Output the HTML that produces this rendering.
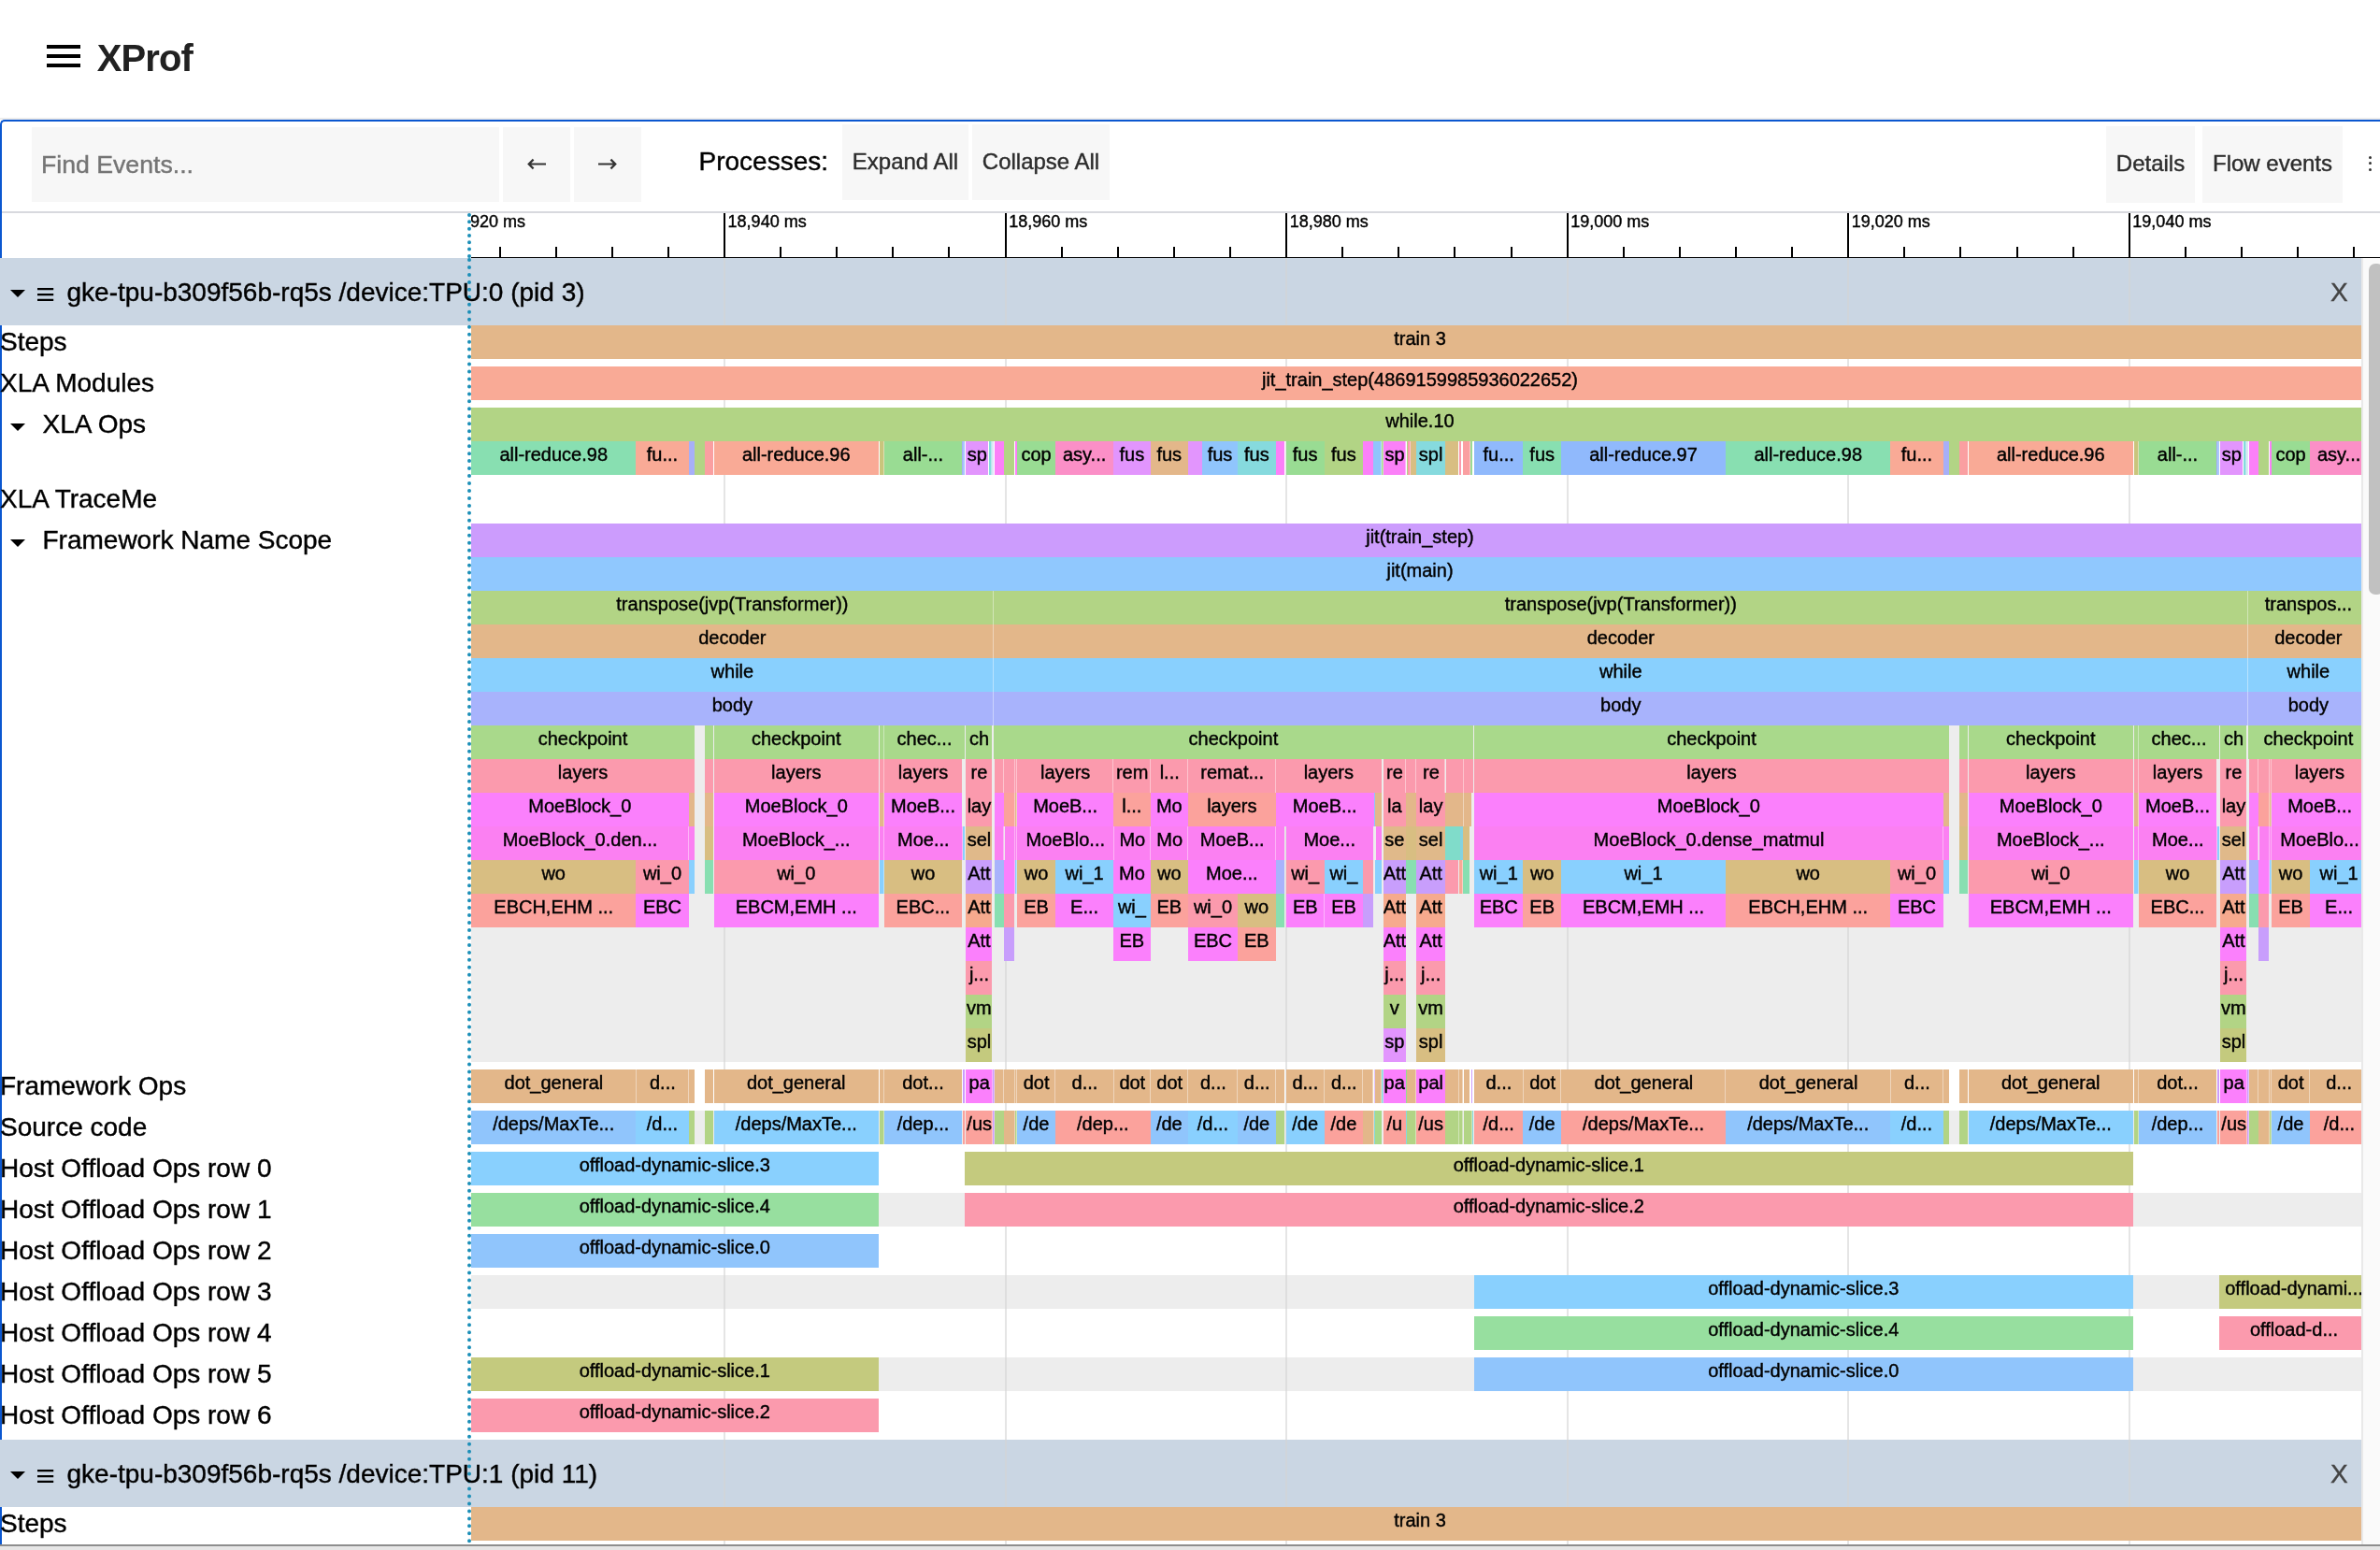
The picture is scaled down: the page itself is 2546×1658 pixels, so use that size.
<!DOCTYPE html>
<html><head><meta charset="utf-8"><title>XProf</title>
<style>
html,body{margin:0;padding:0}
body{width:2546px;height:1658px;position:relative;overflow:hidden;background:#fff;font-family:"Liberation Sans",sans-serif;color:#000;-webkit-text-stroke:0.4px currentColor}
div{position:absolute;box-sizing:border-box}
.s{height:36px;overflow:hidden;text-align:center;font-size:20px;line-height:28px;white-space:nowrap}
.e{box-shadow:inset -1px 0 0 rgba(255,255,255,.42)}
.l{left:0;height:36px;line-height:36px;font-size:28px;white-space:nowrap}
.btn{background:#f7f7f7;color:#2c2c2c;font-size:24px;text-align:center;white-space:nowrap}
.rl{top:226px;font-size:18px;line-height:24px;white-space:nowrap}
.tri{width:0;height:0;border-left:8px solid transparent;border-right:8px solid transparent;border-top:8.5px solid #000}
.g{width:2px;background:rgba(212,212,212,0.6)}
svg{position:absolute}
</style></head><body>
<div id="w" style="left:0;top:0;width:2546px;height:1658px;will-change:transform">

<div style="left:50px;top:48px;width:36px;height:4px;background:#000"></div>
<div style="left:50px;top:58px;width:36px;height:4px;background:#000"></div>
<div style="left:50px;top:68px;width:36px;height:4px;background:#000"></div>
<div style="left:103.7px;top:34px;font-size:40px;line-height:56px;font-weight:bold;color:#212121;letter-spacing:-0.9px;white-space:nowrap;-webkit-text-stroke:0">XProf</div>
<div style="left:0;top:126px;width:2546px;height:2px;background:#ececec"></div>
<div style="left:0;top:128px;width:2560px;height:1540px;border-left:2px solid #0b57d0;border-top:2px solid #0b57d0;border-top-left-radius:5px"></div>
<div style="left:34px;top:136px;width:500px;height:80px;background:#f7f7f7"></div>
<div style="left:44px;top:136px;height:80px;line-height:80px;font-size:26.67px;color:#757575;white-space:nowrap">Find Events...</div>
<div class="btn" style="left:538px;top:136px;width:72px;height:80px"></div>
<div class="btn" style="left:614px;top:136px;width:72px;height:80px"></div>
<svg style="left:538px;top:136px" width="72" height="80" viewBox="0 0 72 80"><path d="M27.3 39.5 H46 M32.6 34.6 L27.7 39.5 L32.6 44.4" stroke="#333" stroke-width="2.2" fill="none"/></svg>
<svg style="left:614px;top:136px" width="72" height="80" viewBox="0 0 72 80"><path d="M26 39.5 H44.7 M39.4 34.6 L44.3 39.5 L39.4 44.4" stroke="#333" stroke-width="2.2" fill="none"/></svg>
<div style="left:747.5px;top:147px;height:52px;line-height:52px;font-size:28px;white-space:nowrap">Processes:</div>
<div class="btn" style="left:901px;top:133px;width:135px;height:81px;line-height:79px">Expand All</div>
<div class="btn" style="left:1040px;top:133px;width:147px;height:81px;line-height:79px">Collapse All</div>
<div class="btn" style="left:2253px;top:135px;width:95px;height:82px;line-height:80px">Details</div>
<div class="btn" style="left:2356px;top:135px;width:150px;height:82px;line-height:80px">Flow events</div>
<div style="left:2534px;top:166.7px;width:3px;height:3px;background:#333;border-radius:1.5px"></div>
<div style="left:2534px;top:173.4px;width:3px;height:3px;background:#333;border-radius:1.5px"></div>
<div style="left:2534px;top:180.1px;width:3px;height:3px;background:#333;border-radius:1.5px"></div>
<div style="left:2px;top:226px;width:2546px;height:2px;background:#d8d9de"></div>
<div style="left:504px;top:228px;width:2042px;height:48px;overflow:hidden">
<div style="left:-30.55px;top:0;width:2px;height:48px;background:#000"></div>
<div class="rl" style="left:-25.95px;top:-3px">18,920 ms</div>
<div style="left:29.56px;top:36px;width:2px;height:12px;background:#000"></div>
<div style="left:89.67px;top:36px;width:2px;height:12px;background:#000"></div>
<div style="left:149.78px;top:36px;width:2px;height:12px;background:#000"></div>
<div style="left:209.89px;top:36px;width:2px;height:12px;background:#000"></div>
<div style="left:270.00px;top:0;width:2px;height:48px;background:#000"></div>
<div class="rl" style="left:274.60px;top:-3px">18,940 ms</div>
<div style="left:330.11px;top:36px;width:2px;height:12px;background:#000"></div>
<div style="left:390.22px;top:36px;width:2px;height:12px;background:#000"></div>
<div style="left:450.33px;top:36px;width:2px;height:12px;background:#000"></div>
<div style="left:510.44px;top:36px;width:2px;height:12px;background:#000"></div>
<div style="left:570.55px;top:0;width:2px;height:48px;background:#000"></div>
<div class="rl" style="left:575.15px;top:-3px">18,960 ms</div>
<div style="left:630.66px;top:36px;width:2px;height:12px;background:#000"></div>
<div style="left:690.77px;top:36px;width:2px;height:12px;background:#000"></div>
<div style="left:750.88px;top:36px;width:2px;height:12px;background:#000"></div>
<div style="left:810.99px;top:36px;width:2px;height:12px;background:#000"></div>
<div style="left:871.10px;top:0;width:2px;height:48px;background:#000"></div>
<div class="rl" style="left:875.70px;top:-3px">18,980 ms</div>
<div style="left:931.21px;top:36px;width:2px;height:12px;background:#000"></div>
<div style="left:991.32px;top:36px;width:2px;height:12px;background:#000"></div>
<div style="left:1051.43px;top:36px;width:2px;height:12px;background:#000"></div>
<div style="left:1111.54px;top:36px;width:2px;height:12px;background:#000"></div>
<div style="left:1171.65px;top:0;width:2px;height:48px;background:#000"></div>
<div class="rl" style="left:1176.25px;top:-3px">19,000 ms</div>
<div style="left:1231.76px;top:36px;width:2px;height:12px;background:#000"></div>
<div style="left:1291.87px;top:36px;width:2px;height:12px;background:#000"></div>
<div style="left:1351.98px;top:36px;width:2px;height:12px;background:#000"></div>
<div style="left:1412.09px;top:36px;width:2px;height:12px;background:#000"></div>
<div style="left:1472.20px;top:0;width:2px;height:48px;background:#000"></div>
<div class="rl" style="left:1476.80px;top:-3px">19,020 ms</div>
<div style="left:1532.31px;top:36px;width:2px;height:12px;background:#000"></div>
<div style="left:1592.42px;top:36px;width:2px;height:12px;background:#000"></div>
<div style="left:1652.53px;top:36px;width:2px;height:12px;background:#000"></div>
<div style="left:1712.64px;top:36px;width:2px;height:12px;background:#000"></div>
<div style="left:1772.75px;top:0;width:2px;height:48px;background:#000"></div>
<div class="rl" style="left:1777.35px;top:-3px">19,040 ms</div>
<div style="left:1832.86px;top:36px;width:2px;height:12px;background:#000"></div>
<div style="left:1892.97px;top:36px;width:2px;height:12px;background:#000"></div>
<div style="left:1953.08px;top:36px;width:2px;height:12px;background:#000"></div>
<div style="left:2013.19px;top:36px;width:2px;height:12px;background:#000"></div>
<div style="left:0;top:46.8px;width:2042px;height:1.2px;background:#000"></div>
</div>
<div style="left:504.00px;top:560.00px;width:2024.00px;height:576.00px;background:#ededed;"></div>
<div style="left:504.00px;top:1188.00px;width:2024.00px;height:36.00px;background:#ededed;"></div>
<div style="left:504.00px;top:1276.00px;width:2024.00px;height:36.00px;background:#ededed;"></div>
<div style="left:504.00px;top:1364.00px;width:2024.00px;height:36.00px;background:#ededed;"></div>
<div style="left:504.00px;top:1452.00px;width:2024.00px;height:36.00px;background:#ededed;"></div>
<div style="left:0.00px;top:276.00px;width:2526.00px;height:72.00px;background:#cad6e3;"></div>
<div style="left:0.00px;top:1540.00px;width:2526.00px;height:72.00px;background:#cad6e3;"></div>
<div class="g" style="left:774.00px;top:276px;height:1376px"></div>
<div class="g" style="left:1074.55px;top:276px;height:1376px"></div>
<div class="g" style="left:1375.10px;top:276px;height:1376px"></div>
<div class="g" style="left:1675.65px;top:276px;height:1376px"></div>
<div class="g" style="left:1976.20px;top:276px;height:1376px"></div>
<div class="g" style="left:2276.75px;top:276px;height:1376px"></div>
<div style="left:0;top:0;width:2526px;height:1652px;overflow:hidden">
<div class="s" style="left:504.0px;top:348px;width:2030.0px;background:#e3b78a">train 3</div>
<div class="s" style="left:504.0px;top:392px;width:2030.0px;background:#f9aa96">jit_train_step(4869159985936022652)</div>
<div class="s" style="left:504.0px;top:436px;width:2030.0px;background:#b2d485">while.10</div>
<div class="s" style="left:504.0px;top:472px;width:176.4px;background:#88dfb1">all-reduce.98</div>
<div class="s" style="left:680.4px;top:472px;width:56.2px;background:#f9aa96">fu...</div>
<div class="s" style="left:736.6px;top:472px;width:6.4px;background:#a7aff8"></div>
<div class="s" style="left:743.0px;top:472px;width:11.0px;background:#b2d485"></div>
<div class="s" style="left:754.0px;top:472px;width:9.0px;background:#fa9fa1"></div>
<div class="s" style="left:764.0px;top:472px;width:175.5px;background:#f9aa96">all-reduce.96</div>
<div class="s e" style="left:941.0px;top:472px;width:5.0px;background:#c9c57c"></div>
<div class="s" style="left:946.0px;top:472px;width:83.0px;background:#99dc93">all-...</div>
<div class="s" style="left:1029.0px;top:472px;width:1.4px;background:#a7aff8"></div>
<div class="s" style="left:1030.4px;top:472px;width:2.0px;background:#a9c8fb"></div>
<div class="s" style="left:1033.4px;top:472px;width:23.6px;background:#e295fd">sp</div>
<div class="s e" style="left:1058.0px;top:472px;width:3.0px;background:#86dade"></div>
<div class="s" style="left:1061.0px;top:472px;width:2.0px;background:#dbe7f6"></div>
<div class="s" style="left:1064.0px;top:472px;width:10.0px;background:#fb80f8"></div>
<div class="s" style="left:1074.0px;top:472px;width:11.0px;background:#b2d485"></div>
<div class="s" style="left:1086.0px;top:472px;width:2.0px;background:#fb80f8"></div>
<div class="s" style="left:1088.0px;top:472px;width:41.0px;background:#99dc93">cop</div>
<div class="s" style="left:1129.0px;top:472px;width:62.2px;background:#fb8fc7">asy...</div>
<div class="s" style="left:1191.2px;top:472px;width:39.4px;background:#e295fd">fus</div>
<div class="s" style="left:1230.6px;top:472px;width:40.4px;background:#e3b78a">fus</div>
<div class="s" style="left:1271.0px;top:472px;width:15.0px;background:#e295fd"></div>
<div class="s" style="left:1286.0px;top:472px;width:38.0px;background:#90c5fc">fus</div>
<div class="s" style="left:1324.0px;top:472px;width:40.7px;background:#86dade">fus</div>
<div class="s" style="left:1364.7px;top:472px;width:9.3px;background:#fb80f8"></div>
<div class="s" style="left:1375.5px;top:472px;width:41.3px;background:#99dc93">fus</div>
<div class="s" style="left:1416.8px;top:472px;width:41.2px;background:#b2d485">fus</div>
<div class="s" style="left:1458.0px;top:472px;width:11.0px;background:#fb80f8"></div>
<div class="s e" style="left:1469.0px;top:472px;width:9.2px;background:#90c5fc"></div>
<div class="s e" style="left:1478.2px;top:472px;width:1.5px;background:#a9d98b"></div>
<div class="s e" style="left:1479.7px;top:472px;width:24.8px;background:#fb80f8">sp</div>
<div class="s" style="left:1504.5px;top:472px;width:1.5px;background:#b2d485"></div>
<div class="s e" style="left:1506.0px;top:472px;width:2.5px;background:#fb9aad"></div>
<div class="s" style="left:1508.5px;top:472px;width:6.8px;background:#d8be82"></div>
<div class="s" style="left:1515.3px;top:472px;width:30.7px;background:#86dade">spl</div>
<div class="s" style="left:1546.0px;top:472px;width:14.0px;background:#d8be82"></div>
<div class="s" style="left:1561.0px;top:472px;width:2.0px;background:#fb9aad"></div>
<div class="s e" style="left:1565.3px;top:472px;width:7.7px;background:#fa9fa1"></div>
<div class="s" style="left:1573.0px;top:472px;width:1.5px;background:#99dc93"></div>
<div class="s" style="left:1577.0px;top:472px;width:52.4px;background:#90b9fc">fu...</div>
<div class="s" style="left:1629.4px;top:472px;width:40.6px;background:#88dfb1">fus</div>
<div class="s" style="left:1670.0px;top:472px;width:176.0px;background:#90b9fc">all-reduce.97</div>
<div class="s" style="left:1846.0px;top:472px;width:176.4px;background:#88dfb1">all-reduce.98</div>
<div class="s" style="left:2022.4px;top:472px;width:56.2px;background:#f9aa96">fu...</div>
<div class="s" style="left:2078.6px;top:472px;width:6.4px;background:#a7aff8"></div>
<div class="s" style="left:2085.0px;top:472px;width:11.0px;background:#b2d485"></div>
<div class="s" style="left:2096.0px;top:472px;width:9.0px;background:#fa9fa1"></div>
<div class="s" style="left:2106.0px;top:472px;width:175.5px;background:#f9aa96">all-reduce.96</div>
<div class="s e" style="left:2283.0px;top:472px;width:5.0px;background:#c9c57c"></div>
<div class="s" style="left:2288.0px;top:472px;width:83.0px;background:#99dc93">all-...</div>
<div class="s" style="left:2371.0px;top:472px;width:1.4px;background:#a7aff8"></div>
<div class="s" style="left:2372.4px;top:472px;width:2.0px;background:#a9c8fb"></div>
<div class="s" style="left:2375.4px;top:472px;width:23.6px;background:#e295fd">sp</div>
<div class="s e" style="left:2400.0px;top:472px;width:3.0px;background:#86dade"></div>
<div class="s" style="left:2403.0px;top:472px;width:2.0px;background:#dbe7f6"></div>
<div class="s" style="left:2406.0px;top:472px;width:10.0px;background:#fb80f8"></div>
<div class="s" style="left:2416.0px;top:472px;width:11.0px;background:#b2d485"></div>
<div class="s" style="left:2428.0px;top:472px;width:2.0px;background:#fb80f8"></div>
<div class="s" style="left:2430.0px;top:472px;width:41.0px;background:#99dc93">cop</div>
<div class="s" style="left:2471.0px;top:472px;width:62.2px;background:#fb8fc7">asy...</div>
<div class="s" style="left:504.0px;top:560px;width:2030.0px;background:#cc9cfd">jit(train_step)</div>
<div class="s" style="left:504.0px;top:596px;width:2030.0px;background:#90c8fe">jit(main)</div>
<div class="s e" style="left:504.0px;top:632px;width:558.8px;background:#b2d485">transpose(jvp(Transformer))</div>
<div class="s e" style="left:1062.8px;top:632px;width:1342.0px;background:#b2d485">transpose(jvp(Transformer))</div>
<div class="s" style="left:2404.8px;top:632px;width:129.2px;background:#b2d485">transpos...</div>
<div class="s e" style="left:504.0px;top:668px;width:558.8px;background:#e3b78a">decoder</div>
<div class="s e" style="left:1062.8px;top:668px;width:1342.0px;background:#e3b78a">decoder</div>
<div class="s" style="left:2404.8px;top:668px;width:129.2px;background:#e3b78a">decoder</div>
<div class="s e" style="left:504.0px;top:704px;width:558.8px;background:#89d0fe">while</div>
<div class="s e" style="left:1062.8px;top:704px;width:1342.0px;background:#89d0fe">while</div>
<div class="s" style="left:2404.8px;top:704px;width:129.2px;background:#89d0fe">while</div>
<div class="s e" style="left:504.0px;top:740px;width:558.8px;background:#a8b3fc">body</div>
<div class="s e" style="left:1062.8px;top:740px;width:1342.0px;background:#a8b3fc">body</div>
<div class="s" style="left:2404.8px;top:740px;width:129.2px;background:#a8b3fc">body</div>
<div class="s" style="left:504.0px;top:776px;width:239.0px;background:#a9d98b">checkpoint</div>
<div class="s" style="left:754.0px;top:776px;width:9.0px;background:#a9d98b"></div>
<div class="s" style="left:764.0px;top:776px;width:175.5px;background:#a9d98b">checkpoint</div>
<div class="s e" style="left:941.0px;top:776px;width:5.0px;background:#a9d98b"></div>
<div class="s" style="left:946.0px;top:776px;width:86.0px;background:#a9d98b">chec...</div>
<div class="s" style="left:1033.4px;top:776px;width:28.1px;background:#a9d98b">ch</div>
<div class="s" style="left:1062.8px;top:776px;width:513.2px;background:#a9d98b">checkpoint</div>
<div class="s" style="left:1577.0px;top:776px;width:508.0px;background:#a9d98b">checkpoint</div>
<div class="s" style="left:2096.0px;top:776px;width:9.0px;background:#a9d98b"></div>
<div class="s" style="left:2106.0px;top:776px;width:175.5px;background:#a9d98b">checkpoint</div>
<div class="s e" style="left:2283.0px;top:776px;width:5.0px;background:#a9d98b"></div>
<div class="s" style="left:2288.0px;top:776px;width:86.0px;background:#a9d98b">chec...</div>
<div class="s" style="left:2375.4px;top:776px;width:28.1px;background:#a9d98b">ch</div>
<div class="s" style="left:2404.8px;top:776px;width:129.2px;background:#a9d98b">checkpoint</div>
<div class="s" style="left:504.0px;top:812px;width:239.0px;background:#fb9aad">layers</div>
<div class="s" style="left:754.0px;top:812px;width:9.0px;background:#fb9aad"></div>
<div class="s" style="left:764.0px;top:812px;width:175.5px;background:#fb9aad">layers</div>
<div class="s e" style="left:941.0px;top:812px;width:5.0px;background:#fb9aad"></div>
<div class="s" style="left:946.0px;top:812px;width:83.0px;background:#fb9aad">layers</div>
<div class="s" style="left:1033.4px;top:812px;width:28.1px;background:#fb9aad">re</div>
<div class="s e" style="left:1063.6px;top:812px;width:10.8px;background:#fb9aad"></div>
<div class="s e" style="left:1074.4px;top:812px;width:11.2px;background:#fb9aad"></div>
<div class="s e" style="left:1085.6px;top:812px;width:2.4px;background:#fb9aad"></div>
<div class="s e" style="left:1088.0px;top:812px;width:103.4px;background:#fb9aad">layers</div>
<div class="s e" style="left:1191.4px;top:812px;width:39.6px;background:#fb9aad">rem</div>
<div class="s e" style="left:1231.0px;top:812px;width:40.4px;background:#fb9aad">l...</div>
<div class="s e" style="left:1271.4px;top:812px;width:93.7px;background:#fb9aad">remat...</div>
<div class="s" style="left:1365.1px;top:812px;width:112.5px;background:#fb9aad">layers</div>
<div class="s e" style="left:1479.7px;top:812px;width:24.6px;background:#fb9aad">re</div>
<div class="s e" style="left:1504.3px;top:812px;width:11.1px;background:#fb9aad"></div>
<div class="s e" style="left:1515.4px;top:812px;width:31.1px;background:#fb9aad">re</div>
<div class="s e" style="left:1546.5px;top:812px;width:19.1px;background:#fb9aad"></div>
<div class="s" style="left:1565.6px;top:812px;width:10.4px;background:#fb9aad"></div>
<div class="s" style="left:1577.0px;top:812px;width:508.0px;background:#fb9aad">layers</div>
<div class="s" style="left:2096.0px;top:812px;width:9.0px;background:#fb9aad"></div>
<div class="s" style="left:2106.0px;top:812px;width:175.5px;background:#fb9aad">layers</div>
<div class="s e" style="left:2283.0px;top:812px;width:5.0px;background:#fb9aad"></div>
<div class="s" style="left:2288.0px;top:812px;width:83.0px;background:#fb9aad">layers</div>
<div class="s" style="left:2375.4px;top:812px;width:28.1px;background:#fb9aad">re</div>
<div class="s e" style="left:2405.6px;top:812px;width:10.8px;background:#fb9aad"></div>
<div class="s e" style="left:2416.4px;top:812px;width:11.2px;background:#fb9aad"></div>
<div class="s e" style="left:2427.6px;top:812px;width:2.4px;background:#fb9aad"></div>
<div class="s" style="left:2430.0px;top:812px;width:102.8px;background:#fb9aad">layers</div>
<div class="s" style="left:504.0px;top:848px;width:232.6px;background:#fb80fc">MoeBlock_0</div>
<div class="s" style="left:736.6px;top:848px;width:6.4px;background:#e3b78a"></div>
<div class="s" style="left:754.0px;top:848px;width:9.0px;background:#e3b78a"></div>
<div class="s" style="left:764.0px;top:848px;width:175.5px;background:#fb80fc">MoeBlock_0</div>
<div class="s e" style="left:941.0px;top:848px;width:5.0px;background:#e3b78a"></div>
<div class="s" style="left:946.0px;top:848px;width:83.0px;background:#fb80fc">MoeB...</div>
<div class="s" style="left:1033.4px;top:848px;width:28.1px;background:#fb9aad">lay</div>
<div class="s" style="left:1063.6px;top:848px;width:10.4px;background:#fb80fc"></div>
<div class="s e" style="left:1074.0px;top:848px;width:11.6px;background:#fba29c"></div>
<div class="s e" style="left:1085.6px;top:848px;width:2.4px;background:#e3b78a"></div>
<div class="s" style="left:1088.0px;top:848px;width:103.2px;background:#fb80fc">MoeB...</div>
<div class="s" style="left:1191.2px;top:848px;width:39.4px;background:#fba29c">l...</div>
<div class="s" style="left:1230.6px;top:848px;width:40.4px;background:#fb80fc">Mo</div>
<div class="s" style="left:1271.0px;top:848px;width:93.7px;background:#fba29c">layers</div>
<div class="s" style="left:1364.7px;top:848px;width:105.0px;background:#fb80fc">MoeB...</div>
<div class="s" style="left:1469.7px;top:848px;width:1.3px;background:#90c5fc"></div>
<div class="s" style="left:1471.0px;top:848px;width:6.6px;background:#e3b78a"></div>
<div class="s" style="left:1479.7px;top:848px;width:24.1px;background:#fb9aad">la</div>
<div class="s" style="left:1503.8px;top:848px;width:11.5px;background:#e3b78a"></div>
<div class="s" style="left:1515.3px;top:848px;width:30.7px;background:#fb9aad">lay</div>
<div class="s e" style="left:1546.0px;top:848px;width:19.6px;background:#e3b78a"></div>
<div class="s" style="left:1565.6px;top:848px;width:8.4px;background:#e3b78a"></div>
<div class="s" style="left:1577.0px;top:848px;width:501.6px;background:#fb80fc">MoeBlock_0</div>
<div class="s" style="left:2078.6px;top:848px;width:6.4px;background:#e3b78a"></div>
<div class="s" style="left:2096.0px;top:848px;width:9.0px;background:#e3b78a"></div>
<div class="s" style="left:2106.0px;top:848px;width:175.5px;background:#fb80fc">MoeBlock_0</div>
<div class="s e" style="left:2283.0px;top:848px;width:5.0px;background:#e3b78a"></div>
<div class="s" style="left:2288.0px;top:848px;width:83.0px;background:#fb80fc">MoeB...</div>
<div class="s" style="left:2375.4px;top:848px;width:28.1px;background:#fb9aad">lay</div>
<div class="s" style="left:2405.6px;top:848px;width:10.4px;background:#fb80fc"></div>
<div class="s e" style="left:2416.0px;top:848px;width:11.6px;background:#fba29c"></div>
<div class="s e" style="left:2427.6px;top:848px;width:2.4px;background:#e3b78a"></div>
<div class="s" style="left:2430.0px;top:848px;width:103.2px;background:#fb80fc">MoeB...</div>
<div class="s e" style="left:504.0px;top:884px;width:233.0px;background:#fb80f2">MoeBlock_0.den...</div>
<div class="s" style="left:737.0px;top:884px;width:6.0px;background:#fb80f2"></div>
<div class="s" style="left:754.0px;top:884px;width:9.0px;background:#d8be82"></div>
<div class="s" style="left:764.0px;top:884px;width:175.5px;background:#fb80f2">MoeBlock_...</div>
<div class="s e" style="left:941.0px;top:884px;width:5.0px;background:#fb80f2"></div>
<div class="s e" style="left:946.0px;top:884px;width:83.6px;background:#fb80f2">Moe...</div>
<div class="s" style="left:1029.6px;top:884px;width:2.4px;background:#89d0fe"></div>
<div class="s" style="left:1033.4px;top:884px;width:28.1px;background:#e0b98a">sel</div>
<div class="s e" style="left:1063.6px;top:884px;width:10.9px;background:#fb80f2"></div>
<div class="s e" style="left:1074.5px;top:884px;width:11.1px;background:#fb80f2"></div>
<div class="s e" style="left:1085.6px;top:884px;width:2.4px;background:#fb80f2"></div>
<div class="s e" style="left:1088.0px;top:884px;width:103.6px;background:#fb80f2">MoeBlo...</div>
<div class="s e" style="left:1191.6px;top:884px;width:39.4px;background:#fb80f2">Mo</div>
<div class="s e" style="left:1231.0px;top:884px;width:40.4px;background:#fb80f2">Mo</div>
<div class="s e" style="left:1271.4px;top:884px;width:93.6px;background:#fb80f2">MoeB...</div>
<div class="s" style="left:1365.0px;top:884px;width:9.0px;background:#fb80f2"></div>
<div class="s" style="left:1375.5px;top:884px;width:93.5px;background:#fb80f2">Moe...</div>
<div class="s" style="left:1471.5px;top:884px;width:6.1px;background:#fb80f2"></div>
<div class="s" style="left:1479.7px;top:884px;width:24.1px;background:#e0b98a">se</div>
<div class="s" style="left:1503.8px;top:884px;width:11.5px;background:#d8be82"></div>
<div class="s" style="left:1515.3px;top:884px;width:30.7px;background:#e0b98a">sel</div>
<div class="s" style="left:1546.0px;top:884px;width:15.5px;background:#80dcca"></div>
<div class="s" style="left:1561.5px;top:884px;width:3.8px;background:#84d2e0"></div>
<div class="s" style="left:1565.3px;top:884px;width:7.1px;background:#d8be82"></div>
<div class="s e" style="left:1577.0px;top:884px;width:502.0px;background:#fb80f2">MoeBlock_0.dense_matmul</div>
<div class="s" style="left:2079.0px;top:884px;width:6.0px;background:#fb80f2"></div>
<div class="s" style="left:2096.0px;top:884px;width:9.0px;background:#d8be82"></div>
<div class="s" style="left:2106.0px;top:884px;width:175.5px;background:#fb80f2">MoeBlock_...</div>
<div class="s e" style="left:2283.0px;top:884px;width:5.0px;background:#fb80f2"></div>
<div class="s e" style="left:2288.0px;top:884px;width:83.6px;background:#fb80f2">Moe...</div>
<div class="s" style="left:2371.6px;top:884px;width:2.4px;background:#89d0fe"></div>
<div class="s" style="left:2375.4px;top:884px;width:28.1px;background:#e0b98a">sel</div>
<div class="s e" style="left:2405.6px;top:884px;width:10.9px;background:#fb80f2"></div>
<div class="s e" style="left:2416.5px;top:884px;width:11.1px;background:#fb80f2"></div>
<div class="s e" style="left:2427.6px;top:884px;width:2.4px;background:#fb80f2"></div>
<div class="s" style="left:2430.0px;top:884px;width:103.0px;background:#fb80f2">MoeBlo...</div>
<div class="s" style="left:504.0px;top:920px;width:176.4px;background:#d8be82">wo</div>
<div class="s" style="left:680.4px;top:920px;width:56.2px;background:#fb9aad">wi_0</div>
<div class="s" style="left:736.6px;top:920px;width:6.4px;background:#89d0fe"></div>
<div class="s" style="left:754.0px;top:920px;width:9.0px;background:#88dfb1"></div>
<div class="s" style="left:764.0px;top:920px;width:175.5px;background:#fb9aad">wi_0</div>
<div class="s e" style="left:941.0px;top:920px;width:5.0px;background:#89d0fe"></div>
<div class="s" style="left:946.0px;top:920px;width:83.0px;background:#d8be82">wo</div>
<div class="s" style="left:1033.4px;top:920px;width:28.1px;background:#c89efc">Att</div>
<div class="s" style="left:1063.6px;top:920px;width:10.4px;background:#a8b3fc"></div>
<div class="s e" style="left:1074.0px;top:920px;width:11.6px;background:#fb80fc"></div>
<div class="s e" style="left:1085.6px;top:920px;width:2.4px;background:#89d0fe"></div>
<div class="s" style="left:1088.0px;top:920px;width:41.0px;background:#d8be82">wo</div>
<div class="s" style="left:1129.0px;top:920px;width:62.2px;background:#89d0fe">wi_1</div>
<div class="s" style="left:1191.2px;top:920px;width:39.4px;background:#fb80fc">Mo</div>
<div class="s" style="left:1230.6px;top:920px;width:40.4px;background:#d8be82">wo</div>
<div class="s" style="left:1271.0px;top:920px;width:93.7px;background:#fb80fc">Moe...</div>
<div class="s" style="left:1364.7px;top:920px;width:9.3px;background:#a8b3fc"></div>
<div class="s" style="left:1375.5px;top:920px;width:41.3px;background:#fb9aad">wi_</div>
<div class="s" style="left:1416.8px;top:920px;width:41.2px;background:#89d0fe">wi_</div>
<div class="s" style="left:1458.0px;top:920px;width:11.0px;background:#fb9aad"></div>
<div class="s" style="left:1471.0px;top:920px;width:6.6px;background:#89d0fe"></div>
<div class="s" style="left:1479.7px;top:920px;width:24.1px;background:#c89efc">Att</div>
<div class="s" style="left:1503.8px;top:920px;width:11.5px;background:#88dfb1"></div>
<div class="s" style="left:1515.3px;top:920px;width:30.7px;background:#c89efc">Att</div>
<div class="s" style="left:1546.0px;top:920px;width:14.0px;background:#fb9aad"></div>
<div class="s e" style="left:1561.0px;top:920px;width:4.3px;background:#f9aa96"></div>
<div class="s" style="left:1565.3px;top:920px;width:7.1px;background:#88dfb1"></div>
<div class="s" style="left:1577.0px;top:920px;width:52.4px;background:#89d0fe">wi_1</div>
<div class="s" style="left:1629.4px;top:920px;width:40.6px;background:#d8be82">wo</div>
<div class="s" style="left:1670.0px;top:920px;width:176.0px;background:#89d0fe">wi_1</div>
<div class="s" style="left:1846.0px;top:920px;width:176.4px;background:#d8be82">wo</div>
<div class="s" style="left:2022.4px;top:920px;width:56.2px;background:#fb9aad">wi_0</div>
<div class="s" style="left:2078.6px;top:920px;width:6.4px;background:#89d0fe"></div>
<div class="s" style="left:2096.0px;top:920px;width:9.0px;background:#88dfb1"></div>
<div class="s" style="left:2106.0px;top:920px;width:175.5px;background:#fb9aad">wi_0</div>
<div class="s e" style="left:2283.0px;top:920px;width:5.0px;background:#89d0fe"></div>
<div class="s" style="left:2288.0px;top:920px;width:83.0px;background:#d8be82">wo</div>
<div class="s" style="left:2375.4px;top:920px;width:28.1px;background:#c89efc">Att</div>
<div class="s" style="left:2405.6px;top:920px;width:10.4px;background:#a8b3fc"></div>
<div class="s e" style="left:2416.0px;top:920px;width:11.6px;background:#fb80fc"></div>
<div class="s e" style="left:2427.6px;top:920px;width:2.4px;background:#89d0fe"></div>
<div class="s" style="left:2430.0px;top:920px;width:41.0px;background:#d8be82">wo</div>
<div class="s" style="left:2471.0px;top:920px;width:62.2px;background:#89d0fe">wi_1</div>
<div class="s" style="left:504.0px;top:956px;width:176.4px;background:#fba29c">EBCH,EHM ...</div>
<div class="s" style="left:680.4px;top:956px;width:56.2px;background:#fb80fc">EBC</div>
<div class="s" style="left:764.0px;top:956px;width:175.5px;background:#fb80fc">EBCM,EMH ...</div>
<div class="s" style="left:946.0px;top:956px;width:83.0px;background:#fba29c">EBC...</div>
<div class="s" style="left:1033.4px;top:956px;width:28.1px;background:#f6aa8e">Att</div>
<div class="s" style="left:1063.6px;top:956px;width:10.4px;background:#88dfb1"></div>
<div class="s" style="left:1074.0px;top:956px;width:11.0px;background:#fb9aad"></div>
<div class="s" style="left:1088.0px;top:956px;width:41.0px;background:#fba29c">EB</div>
<div class="s" style="left:1129.0px;top:956px;width:62.2px;background:#fb80fc">E...</div>
<div class="s" style="left:1191.2px;top:956px;width:39.4px;background:#89d0fe">wi_</div>
<div class="s" style="left:1230.6px;top:956px;width:40.4px;background:#fba29c">EB</div>
<div class="s" style="left:1271.0px;top:956px;width:53.0px;background:#fb9aad">wi_0</div>
<div class="s" style="left:1324.0px;top:956px;width:40.7px;background:#d8be82">wo</div>
<div class="s" style="left:1364.7px;top:956px;width:9.3px;background:#88dfb1"></div>
<div class="s e" style="left:1375.5px;top:956px;width:41.7px;background:#fb80fc">EB</div>
<div class="s" style="left:1417.2px;top:956px;width:40.8px;background:#fb80fc">EB</div>
<div class="s" style="left:1458.0px;top:956px;width:11.0px;background:#c89efc"></div>
<div class="s" style="left:1479.7px;top:956px;width:24.1px;background:#f6aa8e">Att</div>
<div class="s" style="left:1515.3px;top:956px;width:30.7px;background:#f6aa8e">Att</div>
<div class="s" style="left:1577.0px;top:956px;width:52.4px;background:#fb80fc">EBC</div>
<div class="s" style="left:1629.4px;top:956px;width:40.6px;background:#fba29c">EB</div>
<div class="s" style="left:1670.0px;top:956px;width:176.0px;background:#fb80fc">EBCM,EMH ...</div>
<div class="s" style="left:1846.0px;top:956px;width:176.4px;background:#fba29c">EBCH,EHM ...</div>
<div class="s" style="left:2022.4px;top:956px;width:56.2px;background:#fb80fc">EBC</div>
<div class="s" style="left:2106.0px;top:956px;width:175.5px;background:#fb80fc">EBCM,EMH ...</div>
<div class="s" style="left:2288.0px;top:956px;width:83.0px;background:#fba29c">EBC...</div>
<div class="s" style="left:2375.4px;top:956px;width:28.1px;background:#f6aa8e">Att</div>
<div class="s" style="left:2405.6px;top:956px;width:10.4px;background:#88dfb1"></div>
<div class="s" style="left:2416.0px;top:956px;width:11.0px;background:#fb9aad"></div>
<div class="s" style="left:2430.0px;top:956px;width:41.0px;background:#fba29c">EB</div>
<div class="s" style="left:2471.0px;top:956px;width:62.2px;background:#fb80fc">E...</div>
<div class="s" style="left:1033.4px;top:992px;width:28.1px;background:#fb80fc">Att</div>
<div class="s" style="left:1074.0px;top:992px;width:11.0px;background:#c89efc"></div>
<div class="s" style="left:1191.2px;top:992px;width:39.4px;background:#fb80fc">EB</div>
<div class="s" style="left:1271.0px;top:992px;width:53.0px;background:#fb80fc">EBC</div>
<div class="s" style="left:1324.0px;top:992px;width:40.7px;background:#fba29c">EB</div>
<div class="s" style="left:1479.7px;top:992px;width:24.1px;background:#fb80fc">Att</div>
<div class="s" style="left:1515.3px;top:992px;width:30.7px;background:#fb80fc">Att</div>
<div class="s" style="left:2375.4px;top:992px;width:28.1px;background:#fb80fc">Att</div>
<div class="s" style="left:2416.0px;top:992px;width:11.0px;background:#c89efc"></div>
<div class="s" style="left:1033.4px;top:1028px;width:28.1px;background:#fb9aad">j...</div>
<div class="s" style="left:1479.7px;top:1028px;width:24.1px;background:#fb9aad">j...</div>
<div class="s" style="left:1515.3px;top:1028px;width:30.7px;background:#fb9aad">j...</div>
<div class="s" style="left:2375.4px;top:1028px;width:28.1px;background:#fb9aad">j...</div>
<div class="s" style="left:1033.4px;top:1064px;width:28.1px;background:#b2d485">vm</div>
<div class="s" style="left:1479.7px;top:1064px;width:24.1px;background:#b2d485">v</div>
<div class="s" style="left:1515.3px;top:1064px;width:30.7px;background:#b2d485">vm</div>
<div class="s" style="left:2375.4px;top:1064px;width:28.1px;background:#b2d485">vm</div>
<div class="s" style="left:1033.4px;top:1100px;width:28.1px;background:#c4ca7e">spl</div>
<div class="s" style="left:1479.7px;top:1100px;width:24.1px;background:#e295fd">sp</div>
<div class="s" style="left:1515.3px;top:1100px;width:30.7px;background:#d8be82">spl</div>
<div class="s" style="left:2375.4px;top:1100px;width:28.1px;background:#c4ca7e">spl</div>
<div class="s e" style="left:504.0px;top:1144px;width:176.8px;background:#e3b78a">dot_general</div>
<div class="s e" style="left:680.8px;top:1144px;width:56.2px;background:#e3b78a">d...</div>
<div class="s" style="left:737.0px;top:1144px;width:6.0px;background:#e3b78a"></div>
<div class="s" style="left:754.0px;top:1144px;width:9.0px;background:#e3b78a"></div>
<div class="s" style="left:764.0px;top:1144px;width:175.5px;background:#e3b78a">dot_general</div>
<div class="s e" style="left:941.0px;top:1144px;width:5.0px;background:#e3b78a"></div>
<div class="s" style="left:946.0px;top:1144px;width:83.0px;background:#e3b78a">dot...</div>
<div class="s" style="left:1030.0px;top:1144px;width:2.0px;background:#cc9cfd"></div>
<div class="s e" style="left:1033.4px;top:1144px;width:28.6px;background:#fb80fc">pa</div>
<div class="s e" style="left:1062.0px;top:1144px;width:1.6px;background:#cc9cfd"></div>
<div class="s e" style="left:1063.6px;top:1144px;width:10.8px;background:#e3b78a"></div>
<div class="s e" style="left:1074.4px;top:1144px;width:11.2px;background:#e3b78a"></div>
<div class="s e" style="left:1085.6px;top:1144px;width:2.4px;background:#e3b78a"></div>
<div class="s e" style="left:1088.0px;top:1144px;width:41.3px;background:#e3b78a">dot</div>
<div class="s e" style="left:1129.3px;top:1144px;width:62.3px;background:#e3b78a">d...</div>
<div class="s e" style="left:1191.6px;top:1144px;width:39.4px;background:#e3b78a">dot</div>
<div class="s e" style="left:1231.0px;top:1144px;width:40.4px;background:#e3b78a">dot</div>
<div class="s e" style="left:1271.4px;top:1144px;width:53.0px;background:#e3b78a">d...</div>
<div class="s e" style="left:1324.4px;top:1144px;width:40.7px;background:#e3b78a">d...</div>
<div class="s" style="left:1365.1px;top:1144px;width:8.9px;background:#e3b78a"></div>
<div class="s e" style="left:1375.5px;top:1144px;width:41.7px;background:#e3b78a">d...</div>
<div class="s e" style="left:1417.2px;top:1144px;width:41.2px;background:#e3b78a">d...</div>
<div class="s e" style="left:1458.4px;top:1144px;width:11.1px;background:#e3b78a"></div>
<div class="s e" style="left:1469.5px;top:1144px;width:1.5px;background:#cc9cfd"></div>
<div class="s e" style="left:1471.0px;top:1144px;width:7.0px;background:#e3b78a"></div>
<div class="s e" style="left:1478.0px;top:1144px;width:1.7px;background:#86dade"></div>
<div class="s" style="left:1479.7px;top:1144px;width:24.1px;background:#fb80fc">pa</div>
<div class="s" style="left:1503.8px;top:1144px;width:1.2px;background:#99dc93"></div>
<div class="s e" style="left:1505.0px;top:1144px;width:10.3px;background:#e3b78a"></div>
<div class="s" style="left:1515.3px;top:1144px;width:30.7px;background:#fb80fc">pal</div>
<div class="s e" style="left:1546.0px;top:1144px;width:14.6px;background:#e3b78a"></div>
<div class="s e" style="left:1560.6px;top:1144px;width:4.9px;background:#e3b78a"></div>
<div class="s" style="left:1565.5px;top:1144px;width:6.9px;background:#e3b78a"></div>
<div class="s" style="left:1573.5px;top:1144px;width:1.5px;background:#cc9cfd"></div>
<div class="s e" style="left:1577.0px;top:1144px;width:52.8px;background:#e3b78a">d...</div>
<div class="s e" style="left:1629.8px;top:1144px;width:40.6px;background:#e3b78a">dot</div>
<div class="s e" style="left:1670.4px;top:1144px;width:176.0px;background:#e3b78a">dot_general</div>
<div class="s e" style="left:1846.4px;top:1144px;width:176.4px;background:#e3b78a">dot_general</div>
<div class="s e" style="left:2022.8px;top:1144px;width:56.2px;background:#e3b78a">d...</div>
<div class="s" style="left:2079.0px;top:1144px;width:6.0px;background:#e3b78a"></div>
<div class="s" style="left:2096.0px;top:1144px;width:9.0px;background:#e3b78a"></div>
<div class="s" style="left:2106.0px;top:1144px;width:175.5px;background:#e3b78a">dot_general</div>
<div class="s e" style="left:2283.0px;top:1144px;width:5.0px;background:#e3b78a"></div>
<div class="s" style="left:2288.0px;top:1144px;width:83.0px;background:#e3b78a">dot...</div>
<div class="s" style="left:2372.0px;top:1144px;width:2.0px;background:#cc9cfd"></div>
<div class="s e" style="left:2375.4px;top:1144px;width:28.6px;background:#fb80fc">pa</div>
<div class="s e" style="left:2404.0px;top:1144px;width:1.6px;background:#cc9cfd"></div>
<div class="s e" style="left:2405.6px;top:1144px;width:10.8px;background:#e3b78a"></div>
<div class="s e" style="left:2416.4px;top:1144px;width:11.2px;background:#e3b78a"></div>
<div class="s e" style="left:2427.6px;top:1144px;width:2.4px;background:#e3b78a"></div>
<div class="s e" style="left:2430.0px;top:1144px;width:41.3px;background:#e3b78a">dot</div>
<div class="s" style="left:2471.3px;top:1144px;width:61.7px;background:#e3b78a">d...</div>
<div class="s" style="left:504.0px;top:1188px;width:176.4px;background:#90c5fc">/deps/MaxTe...</div>
<div class="s" style="left:680.4px;top:1188px;width:56.2px;background:#89d0fe">/d...</div>
<div class="s" style="left:736.6px;top:1188px;width:6.4px;background:#b2d485"></div>
<div class="s" style="left:754.0px;top:1188px;width:9.0px;background:#b2d485"></div>
<div class="s" style="left:764.0px;top:1188px;width:175.5px;background:#89d0fe">/deps/MaxTe...</div>
<div class="s e" style="left:941.0px;top:1188px;width:5.0px;background:#b2d485"></div>
<div class="s" style="left:946.0px;top:1188px;width:83.0px;background:#90c5fc">/dep...</div>
<div class="s" style="left:1030.0px;top:1188px;width:2.0px;background:#fba29c"></div>
<div class="s e" style="left:1033.4px;top:1188px;width:28.6px;background:#fba29c">/us</div>
<div class="s e" style="left:1062.0px;top:1188px;width:1.6px;background:#cc9cfd"></div>
<div class="s" style="left:1063.6px;top:1188px;width:10.4px;background:#b2d485"></div>
<div class="s e" style="left:1074.0px;top:1188px;width:11.6px;background:#e3b78a"></div>
<div class="s e" style="left:1085.6px;top:1188px;width:2.4px;background:#b2d485"></div>
<div class="s" style="left:1088.0px;top:1188px;width:41.0px;background:#90c5fc">/de</div>
<div class="s" style="left:1129.0px;top:1188px;width:101.6px;background:#fba29c">/dep...</div>
<div class="s" style="left:1230.6px;top:1188px;width:40.4px;background:#90c5fc">/de</div>
<div class="s" style="left:1271.0px;top:1188px;width:53.0px;background:#89d0fe">/d...</div>
<div class="s" style="left:1324.0px;top:1188px;width:40.7px;background:#90c5fc">/de</div>
<div class="s" style="left:1364.7px;top:1188px;width:9.3px;background:#b2d485"></div>
<div class="s" style="left:1375.5px;top:1188px;width:41.3px;background:#89d0fe">/de</div>
<div class="s" style="left:1416.8px;top:1188px;width:41.2px;background:#fba29c">/de</div>
<div class="s e" style="left:1458.0px;top:1188px;width:11.7px;background:#e3b78a"></div>
<div class="s" style="left:1469.7px;top:1188px;width:1.3px;background:#86dade"></div>
<div class="s" style="left:1471.0px;top:1188px;width:6.6px;background:#a9d98b"></div>
<div class="s" style="left:1479.7px;top:1188px;width:24.1px;background:#fba29c">/u</div>
<div class="s" style="left:1503.8px;top:1188px;width:1.2px;background:#86dade"></div>
<div class="s e" style="left:1505.0px;top:1188px;width:10.3px;background:#b2d485"></div>
<div class="s" style="left:1515.3px;top:1188px;width:30.7px;background:#fba29c">/us</div>
<div class="s e" style="left:1546.0px;top:1188px;width:14.6px;background:#b2d485"></div>
<div class="s e" style="left:1560.6px;top:1188px;width:4.9px;background:#b2d485"></div>
<div class="s e" style="left:1565.5px;top:1188px;width:9.0px;background:#b2d485"></div>
<div class="s" style="left:1574.5px;top:1188px;width:1.5px;background:#86dade"></div>
<div class="s" style="left:1577.0px;top:1188px;width:52.4px;background:#fba29c">/d...</div>
<div class="s" style="left:1629.4px;top:1188px;width:40.6px;background:#90c5fc">/de</div>
<div class="s" style="left:1670.0px;top:1188px;width:176.0px;background:#fba29c">/deps/MaxTe...</div>
<div class="s" style="left:1846.0px;top:1188px;width:176.4px;background:#90c5fc">/deps/MaxTe...</div>
<div class="s" style="left:2022.4px;top:1188px;width:56.2px;background:#89d0fe">/d...</div>
<div class="s" style="left:2078.6px;top:1188px;width:6.4px;background:#b2d485"></div>
<div class="s" style="left:2096.0px;top:1188px;width:9.0px;background:#b2d485"></div>
<div class="s" style="left:2106.0px;top:1188px;width:175.5px;background:#89d0fe">/deps/MaxTe...</div>
<div class="s e" style="left:2283.0px;top:1188px;width:5.0px;background:#b2d485"></div>
<div class="s" style="left:2288.0px;top:1188px;width:83.0px;background:#90c5fc">/dep...</div>
<div class="s" style="left:2372.0px;top:1188px;width:2.0px;background:#fba29c"></div>
<div class="s e" style="left:2375.4px;top:1188px;width:28.6px;background:#fba29c">/us</div>
<div class="s e" style="left:2404.0px;top:1188px;width:1.6px;background:#cc9cfd"></div>
<div class="s" style="left:2405.6px;top:1188px;width:10.4px;background:#b2d485"></div>
<div class="s e" style="left:2416.0px;top:1188px;width:11.6px;background:#e3b78a"></div>
<div class="s e" style="left:2427.6px;top:1188px;width:2.4px;background:#b2d485"></div>
<div class="s" style="left:2430.0px;top:1188px;width:41.0px;background:#90c5fc">/de</div>
<div class="s" style="left:2471.0px;top:1188px;width:63.0px;background:#fba29c">/d...</div>
<div class="s" style="left:504.0px;top:1232px;width:435.5px;background:#89d0fe">offload-dynamic-slice.3</div>
<div class="s" style="left:1032.0px;top:1232px;width:1249.6px;background:#c4ca7e">offload-dynamic-slice.1</div>
<div class="s" style="left:504.0px;top:1276px;width:435.5px;background:#97df9f">offload-dynamic-slice.4</div>
<div class="s" style="left:1032.0px;top:1276px;width:1249.6px;background:#fb9aad">offload-dynamic-slice.2</div>
<div class="s" style="left:504.0px;top:1320px;width:435.5px;background:#90c5fc">offload-dynamic-slice.0</div>
<div class="s" style="left:1577.0px;top:1364px;width:704.6px;background:#89d0fe">offload-dynamic-slice.3</div>
<div class="s" style="left:2374.0px;top:1364px;width:160.0px;background:#c4ca7e">offload-dynami...</div>
<div class="s" style="left:1577.0px;top:1408px;width:704.6px;background:#97df9f">offload-dynamic-slice.4</div>
<div class="s" style="left:2374.0px;top:1408px;width:160.0px;background:#fb9aad">offload-d...</div>
<div class="s" style="left:504.0px;top:1452px;width:435.5px;background:#c4ca7e">offload-dynamic-slice.1</div>
<div class="s" style="left:1577.0px;top:1452px;width:704.6px;background:#90c5fc">offload-dynamic-slice.0</div>
<div class="s" style="left:504.0px;top:1496px;width:435.5px;background:#fb9aad">offload-dynamic-slice.2</div>
<div class="s" style="left:504.0px;top:1612px;width:2030.0px;background:#e3b78a">train 3</div>
</div>
<div style="left:500px;top:228px;width:4px;height:48px;border-left:4px dotted #1c8fb8"></div>
<div style="left:500px;top:276px;width:4px;height:1376px;border-left:4px dotted #1c8fb8"></div>
<div class="tri" style="left:11px;top:310px"></div>
<svg style="left:38px;top:306px" width="22" height="18" viewBox="0 0 22 18"><path d="M2 2h17.2v2.3H2zM2 7.9h17.2v2.3H2zM2 13.8h17.2v2.3H2z" fill="#000"/></svg>
<div style="left:71.5px;top:276px;height:72px;line-height:74px;font-size:28px;white-space:nowrap">gke-tpu-b309f56b-rq5s /device:TPU:0 (pid 3)</div>
<div style="left:2493px;top:276px;height:72px;line-height:74px;font-size:28px;color:#444;white-space:nowrap">X</div>
<div class="tri" style="left:11px;top:1574px"></div>
<svg style="left:38px;top:1570px" width="22" height="18" viewBox="0 0 22 18"><path d="M2 2h17.2v2.3H2zM2 7.9h17.2v2.3H2zM2 13.8h17.2v2.3H2z" fill="#000"/></svg>
<div style="left:71.5px;top:1540px;height:72px;line-height:74px;font-size:28px;white-space:nowrap">gke-tpu-b309f56b-rq5s /device:TPU:1 (pid 11)</div>
<div style="left:2493px;top:1540px;height:72px;line-height:74px;font-size:28px;color:#444;white-space:nowrap">X</div>
<div class="l" style="top:348px">Steps</div>
<div class="l" style="top:392px">XLA Modules</div>
<div class="tri" style="left:11px;top:453px"></div>
<div class="l" style="left:45.5px;top:436px">XLA Ops</div>
<div class="l" style="top:516px">XLA TraceMe</div>
<div class="tri" style="left:11px;top:577px"></div>
<div class="l" style="left:45.5px;top:560px">Framework Name Scope</div>
<div class="l" style="top:1144px">Framework Ops</div>
<div class="l" style="top:1188px">Source code</div>
<div class="l" style="top:1232px">Host Offload Ops row 0</div>
<div class="l" style="top:1276px">Host Offload Ops row 1</div>
<div class="l" style="top:1320px">Host Offload Ops row 2</div>
<div class="l" style="top:1364px">Host Offload Ops row 3</div>
<div class="l" style="top:1408px">Host Offload Ops row 4</div>
<div class="l" style="top:1452px">Host Offload Ops row 5</div>
<div class="l" style="top:1496px">Host Offload Ops row 6</div>
<div class="l" style="top:1612px">Steps</div>
<div style="left:2526.00px;top:276.00px;width:2.00px;height:1376.00px;background:#e9e9e9;"></div>
<div style="left:2528.00px;top:276.00px;width:18.00px;height:1376.00px;background:#fafafa;"></div>
<div style="left:2534px;top:282px;width:16px;height:354px;background:#c1c1c1;border-radius:7px"></div>
<div style="left:0.00px;top:1652.00px;width:2546.00px;height:2.00px;background:#8e8e8e;"></div>
<div style="left:0.00px;top:1654.00px;width:2546.00px;height:4.00px;background:#e6e6e6;"></div>
</div></body></html>
